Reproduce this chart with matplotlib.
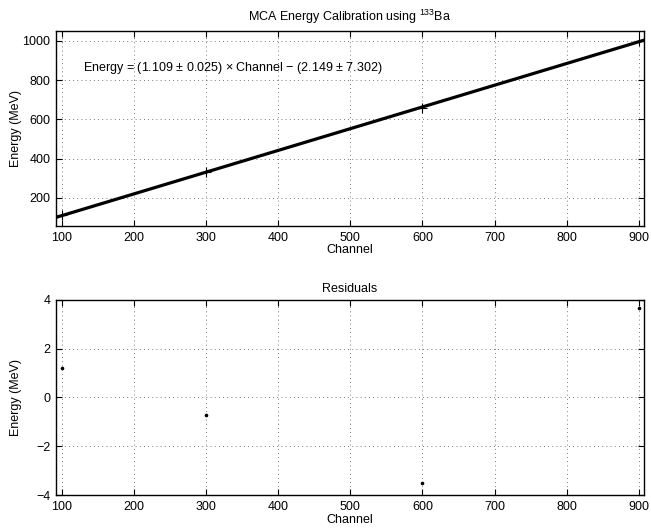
import matplotlib
matplotlib.use("Agg")
import matplotlib.pyplot as plt
import numpy as np

plt.rcParams['font.family'] = ['Liberation Sans', 'DejaVu Sans']
plt.rcParams['mathtext.fontset'] = 'custom'
plt.rcParams['mathtext.rm'] = 'Liberation Sans'

# Data
channels = [100, 300, 600, 900]
energies = [110, 330, 660, 1000]
residuals = [1.2, -0.7, -3.5, 3.65]
slope = 1.109
intercept = -2.149
xticks = [100, 200, 300, 400, 500, 600, 700, 800, 900]
yticks_top = [200, 400, 600, 800, 1000]
yticks_bot = [-4, -2, 0, 2, 4]
xlim = (92, 907)
ylim_top = (56, 1050)
ylim_bot = (-4, 4)

fig = plt.figure(figsize=(6.51, 5.28), dpi=100)
ax1 = fig.add_axes([0.086, 0.572, 0.903, 0.369])
ax2 = fig.add_axes([0.086, 0.0625, 0.903, 0.3695])

fit_x = np.array(xlim)
ax1.plot(fit_x, slope * fit_x + intercept, color='black', lw=2.3, zorder=3)
ax1.plot(channels, energies, linestyle='none', marker='+', color='black',
         markersize=7, mew=0.8, zorder=4)
ax1.text(130, 860, r'Energy = (1.109 $\pm$ 0.025) $\times$ Channel $-$ (2.149 $\pm$ 7.302)',
         fontsize=9, va='center', ha='left')
ax1.set_title(r'MCA Energy Calibration using $^{133}$Ba', fontsize=9, pad=7)
ax1.set_xlabel('Channel', fontsize=9, labelpad=0)
ax1.set_ylabel('Energy (MeV)', fontsize=9)
ax1.set_xlim(xlim)
ax1.set_ylim(ylim_top)
ax1.set_xticks(xticks)
ax1.set_yticks(yticks_top)

ax2.plot(channels, residuals, linestyle='none', marker='o', color='black',
         markersize=1.6, zorder=4)
ax2.set_title('Residuals', fontsize=9, pad=6)
ax2.set_xlabel('Channel', fontsize=9, labelpad=1)
ax2.set_ylabel('Energy (MeV)', fontsize=9)
ax2.set_xlim(xlim)
ax2.set_ylim(ylim_bot)
ax2.set_xticks(xticks)
ax2.set_yticks(yticks_bot)

for ax in (ax1, ax2):
    ax.grid(True, linestyle=(0, (1, 4)), color='black', lw=0.6, alpha=0.7)
    ax.tick_params(direction='in', length=4, width=0.8, labelsize=9,
                   top=True, right=True, pad=4)
    ax.yaxis.set_label_coords(-0.058, 0.5)
    for s in ax.spines.values():
        s.set_linewidth(1.0)

fig.savefig('out.png', dpi=100)
